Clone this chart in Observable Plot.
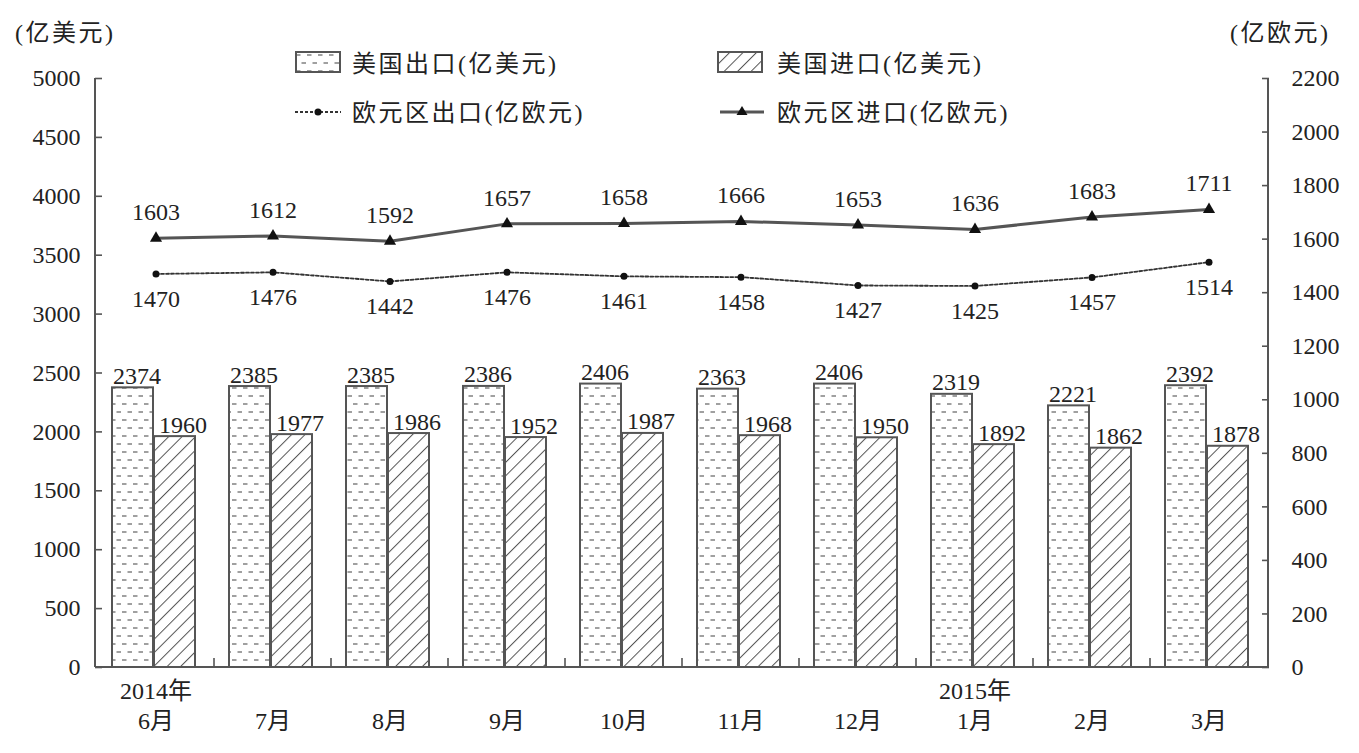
<!DOCTYPE html>
<html><head><meta charset="utf-8">
<script src="https://cdn.jsdelivr.net/npm/d3@7"></script>
<script src="https://cdn.jsdelivr.net/npm/@observablehq/plot@0.6"></script>
<style>
body{margin:0;background:#fff;}
#wrap{position:relative;width:1359px;height:753px;overflow:hidden;font-family:'Liberation Serif','Times New Roman','DejaVu Serif',serif,'Noto Sans CJK SC';color:#222}
.t{position:absolute;font-size:24px;white-space:nowrap;line-height:1;letter-spacing:2.5px}
.sw{position:absolute}
svg text{font-family:'Liberation Serif','Times New Roman','DejaVu Serif',serif,'Noto Sans CJK SC';}
</style></head><body>
<svg width="0" height="0" style="position:absolute"><defs>
<pattern id="dots" width="11" height="16" patternUnits="userSpaceOnUse">
 <rect width="11" height="16" fill="#fff"/>
 <line x1="1" y1="4" x2="5.5" y2="4" stroke="#888" stroke-width="1.6"/>
 <line x1="6.5" y1="12" x2="11" y2="12" stroke="#888" stroke-width="1.6"/>
</pattern>
<pattern id="hatch" width="9.5" height="9.5" patternUnits="userSpaceOnUse" patternTransform="rotate(45)">
 <rect width="9.5" height="9.5" fill="#fff"/>
 <line x1="0" y1="0" x2="0" y2="9.5" stroke="#555" stroke-width="2"/>
</pattern>
</defs></svg>
<div id="wrap"></div>
<script>
const months = ["6月","7月","8月","9月","10月","11月","12月","1月","2月","3月"];
const yearLabels = [{m:"6月", t:"2014年"}, {m:"1月", t:"2015年"}];
const usExport = [2374,2385,2385,2386,2406,2363,2406,2319,2221,2392];
const usImport = [1960,1977,1986,1952,1987,1968,1950,1892,1862,1878];
const euExport = [1470,1476,1442,1476,1461,1458,1427,1425,1457,1514];
const euImport = [1603,1612,1592,1657,1658,1666,1653,1636,1683,1711];
const leftTicks = [0,500,1000,1500,2000,2500,3000,3500,4000,4500,5000];
const rightTicks = [0,200,400,600,800,1000,1200,1400,1600,1800,2000,2200];
const leftMax = 5000, rightMax = 2200;
const K = leftMax / rightMax;

const data = months.map((m,i)=>({m, usExp:usExport[i], usImp:usImport[i], euExp:euExport[i], euImp:euImport[i]}));

const W=1359, H=753, ML=95, MR=91, MT=78, MB=86;
const FONT = "'Liberation Serif','Times New Roman','DejaVu Serif',serif,'Noto Sans CJK SC'";
const INK = "#222";

function frameMark(index, scales, values, dims) {
  const g = d3.create("svg:g").attr("stroke", "#555").attr("stroke-width", 2).attr("fill","none");
  const x = scales.x, y = scales.y;
  const y0 = y(0), yTop = y(leftMax);
  const xl = dims.marginLeft, xr = dims.width - dims.marginRight;
  g.append("line").attr("x1", xl).attr("x2", xl).attr("y1", yTop).attr("y2", y0);
  g.append("line").attr("x1", xr).attr("x2", xr).attr("y1", yTop).attr("y2", y0);
  g.append("line").attr("x1", xl).attr("x2", xr).attr("y1", y0).attr("y2", y0);
  months.slice(1).forEach(m => {
    const xx = x(m);
    g.append("line").attr("x1", xx).attr("x2", xx).attr("y1", y0).attr("y2", y0 - 9).attr("stroke-width", 1.6);
  });
  return g.node();
}

const numFmt = d => String(d);
const chart = Plot.plot({
  width: W, height: H,
  marginLeft: ML, marginRight: MR, marginTop: MT, marginBottom: MB,
  style: {fontFamily: FONT, fontSize: "24px", color: INK, background: "#fff", overflow: "visible"},
  x: {domain: months, padding: 0, axis: null},
  y: {domain: [0, leftMax], axis: null},
  marks: [
    Plot.barY(data, {x:"m", y:"usExp", fill:"url(#dots)", stroke:"#555", strokeWidth:2, insetLeft:15, insetRight:61}),
    Plot.barY(data, {x:"m", y:"usImp", fill:"url(#hatch)", stroke:"#555", strokeWidth:2, insetLeft:57, insetRight:19}),
    frameMark,
    Plot.axisY({anchor:"left", ticks:leftTicks, tickFormat:numFmt, tickSize:0, tickPadding:15, fontSize:24, fill:INK, letterSpacing:"1.5px"}),
    Plot.axisY({anchor:"left", ticks:leftTicks, tickSize:7, dx:7, tickFormat:()=>"", stroke:"#555", strokeWidth:1.6}),
    Plot.axisY({anchor:"right", ticks:rightTicks.map(v=>v*K), tickFormat:d=>String(Math.round(d/K)), tickSize:0, tickPadding:23, fontSize:24, fill:INK, letterSpacing:"1.5px"}),
    Plot.axisY({anchor:"right", ticks:rightTicks.map(v=>v*K), tickSize:7, dx:-7, tickFormat:()=>"", stroke:"#555", strokeWidth:1.6}),
    Plot.text(data, {x:"m", y:"usExp", text:d=>String(d.usExp), lineAnchor:"bottom", dy:-4, dx:-19, fontSize:24, fill:INK, letterSpacing:"1.5px"}),
    Plot.text(data, {x:"m", y:"usImp", text:d=>String(d.usImp), lineAnchor:"bottom", dy:-4, dx:27, fontSize:24, fill:INK, letterSpacing:"1.5px"}),
    Plot.lineY(data, {x:"m", y:d=>d.euExp*K, stroke:"#333", strokeWidth:1.8, strokeDasharray:"3,2"}),
    Plot.dot(data, {x:"m", y:d=>d.euExp*K, r:3.5, fill:"#111", stroke:"none"}),
    Plot.lineY(data, {x:"m", y:d=>d.euImp*K, stroke:"#555", strokeWidth:3}),
    Plot.dot(data, {x:"m", y:d=>d.euImp*K, symbol:"triangle", r:4.5, fill:"#111", stroke:"none"}),
    Plot.text(data, {x:"m", y:d=>d.euImp*K, text:d=>String(d.euImp), dy:-26, fontSize:24, fill:INK, letterSpacing:"1.5px"}),
    Plot.text(data, {x:"m", y:d=>d.euExp*K, text:d=>String(d.euExp), dy:25, fontSize:24, fill:INK, letterSpacing:"1.5px"}),
    Plot.text(yearLabels, {x:"m", text:"t", frameAnchor:"bottom", dy:31, fontSize:24, fill:INK, letterSpacing:"1px"}),
    Plot.text(months, {x:d=>d, text:d=>d, frameAnchor:"bottom", dy:61, fontSize:24, fill:INK, letterSpacing:"1px"})
  ]
});
const wrap = document.getElementById("wrap");
wrap.appendChild(chart);

function addText(txt, left, cy) {
  const d = document.createElement("div");
  d.className = "t"; d.textContent = txt;
  d.style.left = left + "px"; d.style.top = (cy - 12) + "px";
  wrap.appendChild(d);
}
function addSwatch(left, top, w, h, inner) {
  const s = document.createElementNS("http://www.w3.org/2000/svg","svg");
  s.setAttribute("class","sw"); s.setAttribute("width", w); s.setAttribute("height", h);
  s.style.left = left+"px"; s.style.top = top+"px";
  s.innerHTML = inner;
  wrap.appendChild(s);
}
addText("(亿美元)", 15, 33);
addText("(亿欧元)", 1230, 33);
addSwatch(295, 51, 46, 22, '<rect x="1" y="1" width="44" height="20" fill="url(#dots)" stroke="#555" stroke-width="2"/>');
addText("美国出口(亿美元)", 352, 64);
addSwatch(717, 51, 46, 22, '<rect x="1" y="1" width="44" height="20" fill="url(#hatch)" stroke="#555" stroke-width="2"/>');
addText("美国进口(亿美元)", 777, 64);
addSwatch(295, 102, 46, 20, '<line x1="0" y1="10" x2="46" y2="10" stroke="#333" stroke-width="1.8" stroke-dasharray="3,2"/><circle cx="23" cy="10" r="3.5" fill="#111"/>');
addText("欧元区出口(亿欧元)", 352, 113);
addSwatch(720, 102, 44, 20, '<line x1="0" y1="10" x2="44" y2="10" stroke="#555" stroke-width="3"/><path d="M22,4 L27.5,13 L16.5,13 Z" fill="#111"/>');
addText("欧元区进口(亿欧元)", 777, 113);
</script>
</body></html>
